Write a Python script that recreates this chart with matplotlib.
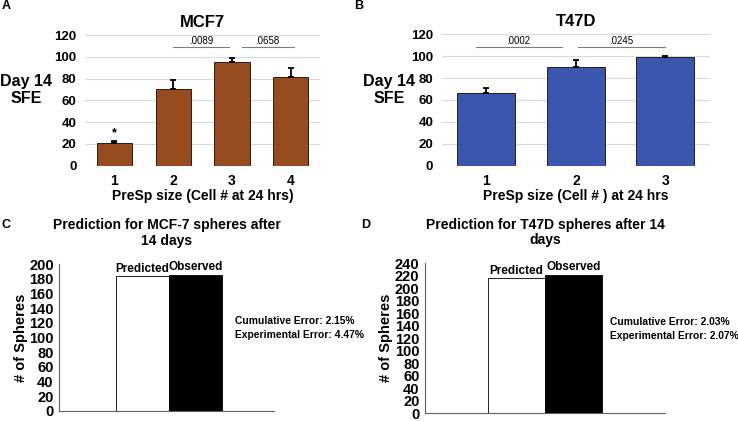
import matplotlib
matplotlib.use('Agg')
import matplotlib.pyplot as plt

plt.rcParams['font.family'] = ['Liberation Sans', 'DejaVu Sans']
plt.rcParams['font.weight'] = 'bold'

# panel A: MCF7
mcf7_x = ['1', '2', '3', '4']
mcf7_sfe = [20.5, 70, 95.2, 81]
mcf7_err = [2.5, 8.5, 4, 9]
mcf7_pvals = ['.0089', '.0658']

# panel B: T47D
t47d_x = ['1', '2', '3']
t47d_sfe = [66, 89.8, 99.6]
t47d_err = [4.7, 6.4, 0.5]
t47d_pvals = ['.0002', '.0245']

# panels C and D: predicted vs observed
pred_labels = ['Predicted', 'Observed']
mcf7_spheres = [183, 185.5]
t47d_spheres = [216, 221]
mcf7_errors = ['Cumulative Error: 2.15%', 'Experimental Error: 4.47%']
t47d_errors = ['Cumulative Error: 2.03%', 'Experimental Error: 2.07%']

W, H = 738, 421
fig = plt.figure(figsize=(W / 100, H / 100), dpi=100)


def px_axes(x0, x1, ytop, ybot):
    return fig.add_axes([x0 / W, 1 - ybot / H, (x1 - x0) / W, (ybot - ytop) / H])


def ftext(x, y, s, **kw):
    fig.text(x / W, 1 - y / H, s, **kw)


brown = '#974c1f'
blue = '#3b57ad'
grid_c = '#d9d9d9'


def sfe_panel(ax, labels, vals, errs, color, width, title, xlabel, pvals, spans, ly):
    pos = list(range(1, len(labels) + 1))
    ax.bar(pos, vals, width, color=color, edgecolor='#2a1a10', linewidth=0.7, zorder=3)
    ax.errorbar(pos, vals, yerr=[[0] * len(errs), errs], fmt='none', ecolor='black',
                elinewidth=1.3, capsize=2.5, capthick=1.3, zorder=4)
    ax.set_ylim(0, 120)
    ax.set_xlim(0.5, len(labels) + 0.5)
    ax.set_yticks(range(0, 121, 20))
    ax.yaxis.grid(True, color=grid_c, linewidth=0.8, zorder=0)
    for s in ax.spines.values():
        s.set_visible(False)
    ax.tick_params(length=0, labelsize=9.5, pad=6)
    ax.tick_params(axis='x', labelsize=10, pad=6)
    ax.set_xticks(pos)
    ax.set_xticklabels(labels)
    ax.set_title(title, fontsize=12, fontweight='bold', pad=6)
    ax.set_xlabel(xlabel, fontsize=10, fontweight='bold')
    ax.xaxis.set_label_coords(0.5, -0.18)
    for p, (a, b) in zip(pvals, spans):
        ax.plot([a, b], [ly, ly], color='#7f7f7f', linewidth=0.8, zorder=2, clip_on=False)
        ax.text((a + b) / 2, ly + 1, p, ha='center', va='bottom', fontsize=7, fontweight='normal')


axA = px_axes(85, 320, 35, 165.7)
sfe_panel(axA, mcf7_x, mcf7_sfe, mcf7_err, brown, 0.6, 'MCF7', 'PreSp size (Cell # at 24 hrs)',
          mcf7_pvals, [(2.0, 2.95), (3.17, 4.05)], 109)
axA.text(1, mcf7_sfe[0] + mcf7_err[0] + 1, '*', ha='center', va='bottom', fontsize=9)

axB = px_axes(441.7, 710, 34.3, 165.7)
sfe_panel(axB, t47d_x, t47d_sfe, t47d_err, blue, 0.65, 'T47D', 'PreSp size (Cell # ) at 24 hrs',
          t47d_pvals, [(0.88, 1.84), (2.02, 3.0)], 108)

ftext(26, 90, 'Day 14\nSFE', ha='center', va='center', fontsize=11.5, fontweight='bold', linespacing=1.1)
ftext(389, 90, 'Day 14\nSFE', ha='center', va='center', fontsize=11.5, fontweight='bold', linespacing=1.1)


def pred_panel(ax, vals, ymax, xlim, title):
    ax.bar([0, 1], vals, 1.0, color=['white', 'black'], edgecolor='black', linewidth=0.6)
    for i, (lab, v) in enumerate(zip(pred_labels, vals)):
        ax.text(i, v + ymax * 0.012, lab, ha='center', va='bottom', fontsize=8.5, fontweight='bold')
    ax.set_ylim(0, ymax)
    ax.set_xlim(*xlim)
    ax.set_yticks(range(0, ymax + 1, 20))
    ax.set_xticks([])
    ax.spines['top'].set_visible(False)
    ax.spines['right'].set_visible(False)
    ax.spines['left'].set_color('#606060')
    ax.spines['bottom'].set_color('#606060')
    ax.tick_params(length=0, labelsize=10.5, pad=4)
    for t in ax.get_yticklabels():
        t.set_fontweight('bold')
    ax.set_ylabel('# of Spheres', fontsize=10.5, fontweight='bold', labelpad=1)
    ax.set_title(title, fontsize=10, fontweight='bold', pad=14, linespacing=1.1)


axC = px_axes(59.3, 274, 264, 410.7)
pred_panel(axC, mcf7_spheres, 200, (-1.57, 2.48), 'Prediction for MCF-7 spheres after\n14 days')
axD = px_axes(425, 665, 263.3, 413.3)
pred_panel(axD, t47d_spheres, 240, (-1.6, 2.6), 'Prediction for T47D spheres after 14\ndays')

ftext(235, 328, '\n'.join(mcf7_errors), ha='left', va='center', fontsize=7.4, fontweight='bold', linespacing=1.4)
ftext(610, 329, '\n'.join(t47d_errors), ha='left', va='center', fontsize=7.4, fontweight='bold', linespacing=1.4)

for lab, x, y in [('A', 2, 6), ('B', 354, 6), ('C', 2, 225), ('D', 361, 225)]:
    ftext(x, y, lab, ha='left', va='center', fontsize=9, fontweight='bold')

fig.savefig('out.png', dpi=100)
